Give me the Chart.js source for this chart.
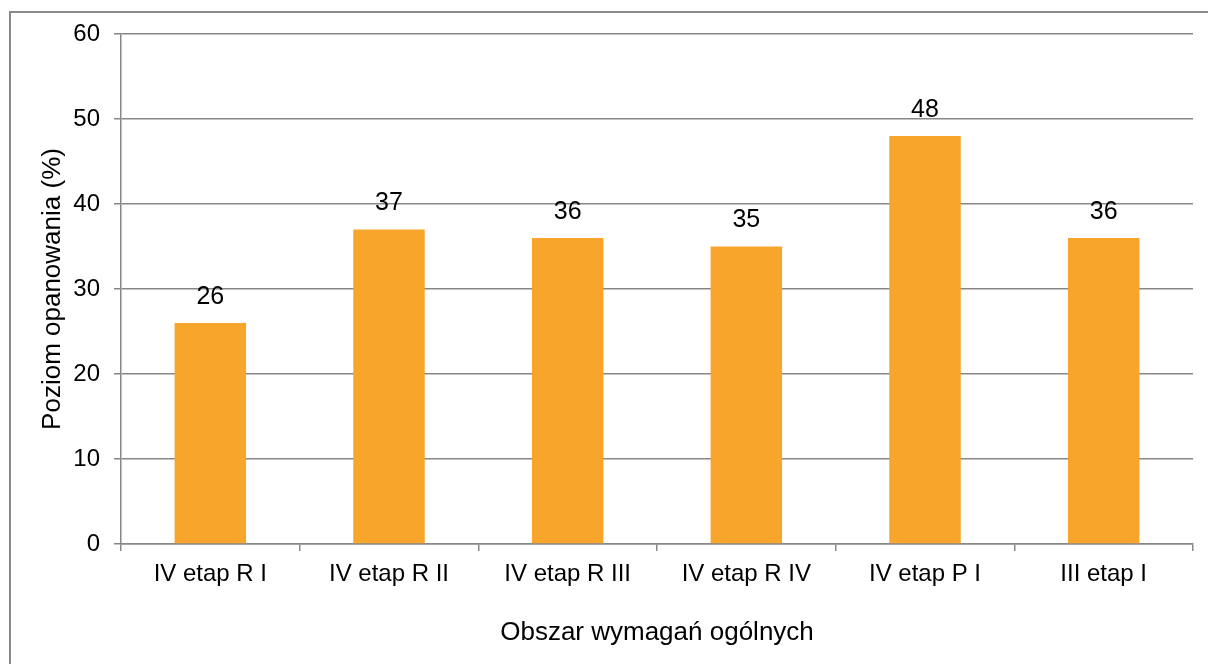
<!DOCTYPE html>
<html>
<head>
<meta charset="utf-8">
<script src="https://cdn.jsdelivr.net/npm/chart.js@4"></script>
<style>
    body { margin: 0; background: #fff; }
</style>
</head>
<body>
<canvas id="poziomChart" width="1208" height="664"></canvas>
<script>
const categories = ["IV etap R I", "IV etap R II", "IV etap R III", "IV etap R IV", "IV etap P I", "III etap I"];
const values = [26, 37, 36, 35, 48, 36];
const yMin = 0;
const yMax = 60;
const yStep = 10;

const fontFamily = "'Liberation Sans', Arial, sans-serif";
const gridColor = "#878787";

// ramka wokol calego wykresu
const frame = {
    id: "frame",
    beforeDraw(chart) {
        const c = chart.ctx;
        c.save();
        c.fillStyle = "#fff";
        c.fillRect(0, 0, chart.width, chart.height);
        c.strokeStyle = "#8a8a8a";
        c.lineWidth = 2;
        c.strokeRect(10, 12, chart.width + 20, chart.height + 20);
        c.restore();
    }
};

// etykiety wartosci nad slupkami
const valueLabels = {
    id: "valueLabels",
    afterDatasetsDraw(chart) {
        const c = chart.ctx;
        const meta = chart.getDatasetMeta(0);
        c.save();
        c.fillStyle = "#000";
        c.font = "25px " + fontFamily;
        c.textAlign = "center";
        c.textBaseline = "middle";
        meta.data.forEach((bar, i) => {
            c.fillText(String(values[i]), bar.x, bar.y - 26);
        });
        c.restore();
    }
};

const ctx = document.getElementById("poziomChart");

new Chart(ctx, {
    type: "bar",
    data: {
        labels: categories,
        datasets: [
            {
                label: "Poziom opanowania",
                data: values,
                backgroundColor: "#F7A52B",
                barPercentage: 0.4,
                categoryPercentage: 1.0
            }
        ]
    },
    options: {
        responsive: false,
        animation: false,
        layout: {
            padding: { top: 34, right: 15, left: 0, bottom: 0 }
        },
        plugins: {
            legend: { display: false },
            tooltip: { enabled: false }
        },
        scales: {
            x: {
                grid: {
                    offset: true,
                    drawOnChartArea: false,
                    color: gridColor,
                    lineWidth: 1.5,
                    tickLength: 7
                },
                border: { color: gridColor, width: 1.5 },
                ticks: {
                    color: "#000",
                    padding: 9,
                    maxRotation: 0,
                    font: { family: fontFamily, size: 24 }
                },
                title: {
                    display: true,
                    text: "Obszar wymagań ogólnych",
                    color: "#000",
                    font: { family: fontFamily, size: 26 },
                    padding: { top: 16, bottom: 16 }
                },
                afterFit(scale) {
                    scale.height = 120;
                }
            },
            y: {
                min: yMin,
                max: yMax,
                grid: {
                    color: gridColor,
                    lineWidth: 1.5,
                    tickLength: 7
                },
                border: { color: gridColor, width: 1.5 },
                ticks: {
                    stepSize: yStep,
                    color: "#000",
                    padding: 14,
                    font: { family: fontFamily, size: 24 }
                },
                title: {
                    display: true,
                    text: "Poziom opanowania (%)",
                    color: "#000",
                    font: { family: fontFamily, size: 26 },
                    padding: { top: 37, bottom: 37 }
                },
                afterFit(scale) {
                    scale.width = 121;
                }
            }
        }
    },
    plugins: [frame, valueLabels]
});
</script>
</body>
</html>
